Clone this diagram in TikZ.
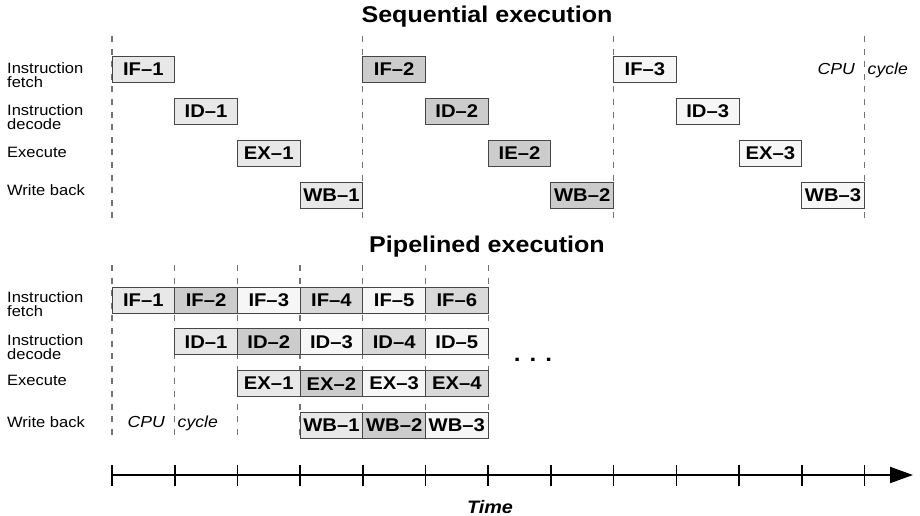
\documentclass[tikz,border=0pt]{standalone}
\usepackage{fontspec}
\setmainfont{Liberation Sans}[FakeStretch=1.1]
\usetikzlibrary{arrows.meta}

% fills for the successive instructions
\definecolor{shade1}{RGB}{232,232,232}
\definecolor{shade2}{RGB}{204,204,204}
\definecolor{shade3}{RGB}{246,246,246}
\definecolor{shade4}{RGB}{217,217,217}
\definecolor{shade5}{RGB}{246,246,246}
\definecolor{shade6}{RGB}{217,217,217}
\definecolor{boxline}{RGB}{70,70,70}
\definecolor{guideline}{RGB}{115,115,115}

\begin{document}
\begin{tikzpicture}[x=1pt,y=-1pt,
  cell/.style={draw=boxline, line width=0.9pt, minimum width=62.7pt,
    minimum height=26pt, inner sep=0pt,
    font=\fontsize{18.4}{20}\selectfont\bfseries},
  lbl/.style={anchor=west, align=left, inner sep=0pt,
    font=\fontsize{15}{14}\selectfont},
  heading/.style={anchor=base, inner sep=0pt,
    font=\fontsize{22.8}{26}\selectfont\bfseries},
  cyc/.style={inner sep=0pt, font=\fontsize{16}{18}\selectfont\itshape},
  guide/.style={draw=guideline, line width=1.3pt, dash pattern=on 6pt off 6.6pt},
]
\useasboundingbox (0,0) rectangle (920,516);

% ---------- sequential execution ----------
\node[heading] (seqtitle) at (487,23) {Sequential execution};

\foreach \k in {0,4,8,12}
  \draw[guide] ({112+62.7*\k},36) -- ({112+62.7*\k},218);

\node[lbl] (sl0) at (7,75)  {Instruction\\fetch};
\node[lbl] (sl1) at (7,117) {Instruction\\decode};
\node[lbl] (sl2) at (7,152) {Execute};
\node[lbl] (sl3) at (7,190) {Write back};

\foreach \t/\c [count=\k from 0] in
  {IF--1/shade1,ID--1/shade1,EX--1/shade1,WB--1/shade1,
   IF--2/shade2,ID--2/shade2,IE--2/shade2,WB--2/shade2,
   IF--3/shade3,ID--3/shade3,EX--3/shade3,WB--3/shade3}{
  \pgfmathtruncatemacro\row{mod(\k,4)}
  \node[cell, fill=\c] (seq\k) at ({143.35+62.7*\k},{69.5+42*\row}) {\t};
}

\node[cyc, anchor=base east] (cpuA) at (855,75) {CPU};
\node[cyc, anchor=base west] (cycA) at (867.5,75) {cycle};

% ---------- pipelined execution ----------
\node[heading] (pipetitle) at (487,252) {Pipelined execution};

\foreach \k in {0,...,6}
  \draw[guide] ({112+62.7*\k},265) -- ({112+62.7*\k},441);

\node[lbl] (pl0) at (7,304) {Instruction\\fetch};
\node[lbl] (pl1) at (7,347) {Instruction\\decode};
\node[lbl] (pl2) at (7,380) {Execute};
\node[lbl] (pl3) at (7,422) {Write back};

\foreach \r/\st in {0/IF,1/ID,2/EX,3/WB}{
  \foreach \c in {\r,...,5}{
    \pgfmathtruncatemacro\i{\c-\r+1}
    \node[cell, fill=shade\i] (pipe-\r-\i)
      at ({143.35+62.7*\c},{300+41.8*\r}) {\st--\i};
  }
}

\node[anchor=base, inner sep=0pt, font=\fontsize{22}{24}\selectfont\bfseries]
  (dots) at (533,361) {.\hspace{9pt}.\hspace{9pt}.};

\node[cyc, anchor=base east] (cpuB) at (165,427) {CPU};
\node[cyc, anchor=base west] (cycB) at (177.5,427) {cycle};

% ---------- time axis ----------
\coordinate (tstart) at (112,475);
\coordinate (tend) at (913,475);
\draw[line width=2pt, -{Triangle[length=23pt,width=16pt]}] (tstart) -- (tend);
\foreach \k in {0,...,12}
  \draw[line width=1.6pt] ({112+62.7*\k},465) -- ({112+62.7*\k},486);
\node[anchor=base, inner sep=0pt,
  font=\fontsize{18}{20}\selectfont\bfseries\itshape] (time) at (490,513) {Time};
\end{tikzpicture}
\end{document}
